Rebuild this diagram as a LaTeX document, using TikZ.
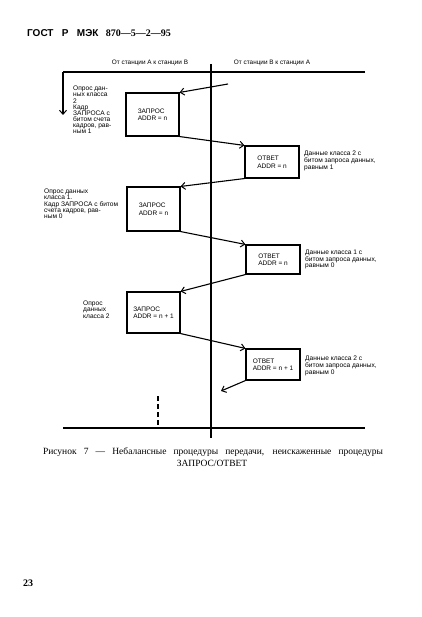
\documentclass[tikz,border=0pt]{standalone}
\usepackage{fontspec}
\setmainfont{Liberation Serif}
\newfontfamily\notefont{Liberation Sans}
\usetikzlibrary{arrows.meta}
\tikzset{
  line/.style={line width=1.1pt},
  arr/.style={line width=1.1pt,-{Straight Barb[length=4pt,width=7pt,line width=1pt]}},
  msgbox/.style={draw,line width=1.1pt,inner sep=0pt,align=left,font=\notefont\fontsize{6.5}{7.5}\selectfont},
  note/.style={anchor=north west,inner sep=0pt,align=left,font=\notefont\fontsize{6.6}{6.1}\selectfont},
  head/.style={inner sep=0pt,font=\notefont\fontsize{6.4}{7}\selectfont}
}
\begin{document}
\begin{tikzpicture}[x=1pt,y=-1pt]
\useasboundingbox[fill=white] (0,0) rectangle (422,617);
% header
\node[anchor=west,inner sep=0pt] (title) at (27,33) {{\notefont\bfseries\fontsize{10}{11}\selectfont ГОСТ\ \ \ Р\ \ \ МЭК}\ \ \ {\bfseries\fontsize{10}{11}\selectfont 870—5—2—95}};
\node[head] (hA) at (150,63) {От станции А к станции В};
\node[head] (hB) at (272,63) {От станции В к станции А};
% frame lines
\coordinate (tl) at (63,72);
\coordinate (tr) at (365,72);
\coordinate (ldown) at (63,115);
\coordinate (vtop) at (211,64);
\coordinate (vbot) at (211,438);
\coordinate (bl) at (63,428);
\coordinate (br) at (365,428);
\coordinate (dtop) at (158,396);
\coordinate (dbot) at (158,428);
\draw[line] (tr) -- (tl);
\draw[arr] (tl) -- (ldown);
\draw[line] (vtop) -- (vbot);
\draw[line] (bl) -- (br);
\draw[line,dash pattern=on 5pt off 3pt] (dtop) -- (dbot);
% boxes
\node[msgbox,minimum width=53pt,minimum height=43pt] (b1) at (152.5,114.5) {ЗАПРОС\\ADDR = n};
\node[msgbox,minimum width=54pt,minimum height=32pt] (b2) at (272,162) {ОТВЕТ\\ADDR = n};
\node[msgbox,minimum width=53pt,minimum height=44pt] (b3) at (153.5,209) {ЗАПРОС\\ADDR = n};
\node[msgbox,minimum width=54pt,minimum height=29pt] (b4) at (273,259.5) {ОТВЕТ\\ADDR = n};
\node[msgbox,minimum width=53pt,minimum height=41pt] (b5) at (153.5,312.5) {ЗАПРОС\\ADDR = n + 1};
\node[msgbox,minimum width=54pt,minimum height=31pt] (b6) at (273,364.5) {ОТВЕТ\\ADDR = n + 1};
% connectors
\coordinate (start) at (228,84);
\coordinate (end) at (221,391);
\draw[arr] (start) -- (b1.north east);
\draw[arr] (b1.south east) -- (b2.north west);
\draw[arr] (b2.south west) -- (b3.north east);
\draw[arr] (b3.south east) -- (b4.north west);
\draw[arr] (b4.south west) -- (b5.north east);
\draw[arr] (b5.south east) -- (b6.north west);
\draw[arr] (b6.south west) -- (end);
% notes
\node[note] (n1) at (73,86) {Опрос дан-\\ных класса\\2\\Кадр\\ЗАПРОСА с\\битом счета\\кадров, рав-\\ным 1};
\node[note] (n2) at (44,189) {Опрос данных\\класса 1.\\Кадр ЗАПРОСА с битом\\счета кадров, рав-\\ным 0};
\node[note] (n3) at (83,301) {Опрос\\данных\\класса 2};
\node[note] (r1) at (304,151) {Данные класса 2 с\\битом запроса данных,\\равным 1};
\node[note] (r2) at (305,250) {Данные класса 1 с\\битом запроса данных,\\равным 0};
\node[note] (r3) at (305,356) {Данные класса 2 с\\битом запроса данных,\\равным 0};
% caption
\node[inner sep=0pt,font=\fontsize{9.5}{11}\selectfont] (cap1) at (213,452) {\makebox[340pt][s]{Рисунок 7 — Небалансные процедуры передачи, неискаженные процедуры}};
\node[inner sep=0pt,font=\fontsize{9.5}{11}\selectfont] (cap2) at (212,463) {ЗАПРОС/ОТВЕТ};
% page number
\node[inner sep=0pt,font=\bfseries\fontsize{10}{11}\selectfont] (pg) at (28,583) {23};
\end{tikzpicture}
\end{document}
